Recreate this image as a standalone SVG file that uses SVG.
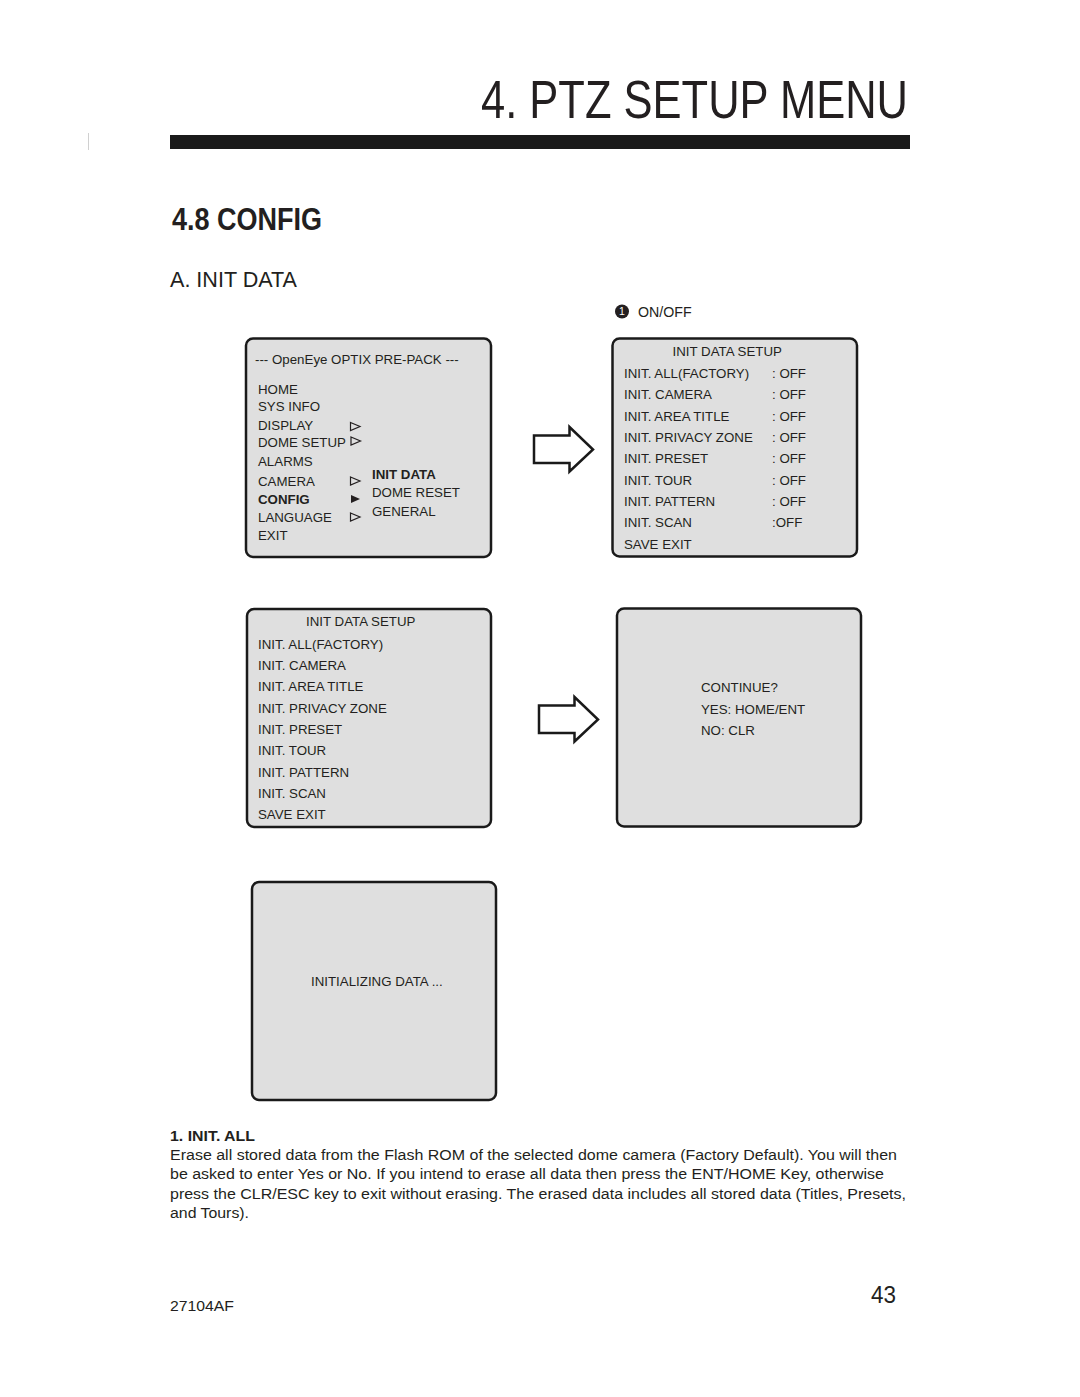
<svg xmlns="http://www.w3.org/2000/svg" width="1080" height="1397" viewBox="0 0 1080 1397">
<style>
text{font-family:"Liberation Sans",Arial,sans-serif;fill:#231f20}
.m{font-size:13.3px}
.b{font-weight:bold}
.box{fill:#dfdfdf;stroke:#1a1a1a;stroke-width:2.5}
.tri{fill:none;stroke:#231f20;stroke-width:1.2;stroke-linejoin:miter}
.arr{fill:#fff;stroke:#1a1a1a;stroke-width:2.5;stroke-linejoin:miter}
.body{font-size:15.5px}
</style>
<rect x="0" y="0" width="1080" height="1397" fill="#fff"/>
<g id="header">
<text x="481" y="118" font-size="53" textLength="427" lengthAdjust="spacingAndGlyphs">4. PTZ SETUP MENU</text>
<rect x="170" y="135" width="740" height="14" fill="#1a1a1a"/>
<line x1="88.5" y1="133" x2="88.5" y2="150" stroke="#d0d0d0" stroke-width="1"/>
<text x="172" y="230" font-size="32" class="b" textLength="150" lengthAdjust="spacingAndGlyphs">4.8 CONFIG</text>
<text x="170" y="287" font-size="22" textLength="127" lengthAdjust="spacingAndGlyphs">A.  INIT DATA</text>
</g>
<g id="main-menu">
<rect class="box" x="246" y="338.5" width="245" height="218.5" rx="7"/>
<text class="m" x="255" y="364">--- OpenEye OPTIX PRE-PACK ---</text>
<text class="m" x="258" y="394">HOME</text>
<text class="m" x="258" y="411">SYS INFO</text>
<text class="m" x="258" y="429.5">DISPLAY</text>
<text class="m" x="258" y="447">DOME SETUP</text>
<text class="m" x="258" y="466">ALARMS</text>
<text class="m" x="258" y="485.5">CAMERA</text>
<text class="m b" x="258" y="504">CONFIG</text>
<text class="m" x="258" y="521.5">LANGUAGE</text>
<text class="m" x="258" y="539.5">EXIT</text>
<text class="m b" x="372" y="479">INIT DATA</text>
<text class="m" x="372" y="497">DOME RESET</text>
<text class="m" x="372" y="515.5">GENERAL</text>
<path class="tri" d="M350.5 422.5 L360 426.5 L350.5 430.5 Z"/>
<path class="tri" d="M351 437 L360.5 441 L351 445 Z"/>
<path class="tri" d="M350.5 477 L360 481 L350.5 485 Z"/>
<path d="M351 495 L360 499 L351 503 Z" fill="#231f20"/>
<path class="tri" d="M350.5 513 L360 517 L350.5 521 Z"/>
</g>
<g id="onoff-label">
<circle cx="622" cy="311.5" r="7" fill="#231f20"/>
<text x="622" y="315.3" font-size="10.5" text-anchor="middle" style="fill:#fff">1</text>
<text x="638" y="317" font-size="14.2">ON/OFF</text>
</g>
<g id="init-setup-onoff">
<rect class="box" x="612.5" y="338.5" width="244.5" height="218" rx="7"/>
<text class="m" x="672.5" y="356">INIT DATA SETUP</text>
<text class="m" x="624" y="378">INIT. ALL(FACTORY)</text>
<text class="m" x="624" y="399.3">INIT. CAMERA</text>
<text class="m" x="624" y="420.6">INIT. AREA TITLE</text>
<text class="m" x="624" y="442">INIT. PRIVACY ZONE</text>
<text class="m" x="624" y="463.3">INIT. PRESET</text>
<text class="m" x="624" y="484.6">INIT. TOUR</text>
<text class="m" x="624" y="506">INIT. PATTERN</text>
<text class="m" x="624" y="527.3">INIT. SCAN</text>
<text class="m" x="624" y="548.6">SAVE EXIT</text>
<text class="m" x="772" y="378">: OFF</text>
<text class="m" x="772" y="399.3">: OFF</text>
<text class="m" x="772" y="420.6">: OFF</text>
<text class="m" x="772" y="442">: OFF</text>
<text class="m" x="772" y="463.3">: OFF</text>
<text class="m" x="772" y="484.6">: OFF</text>
<text class="m" x="772" y="506">: OFF</text>
<text class="m" x="772" y="527.3">:OFF</text>
</g>
<g id="init-setup-list">
<rect class="box" x="247" y="609" width="244" height="218" rx="7"/>
<text class="m" x="306" y="626">INIT DATA SETUP</text>
<text class="m" x="258" y="648.5">INIT. ALL(FACTORY)</text>
<text class="m" x="258" y="670">INIT. CAMERA</text>
<text class="m" x="258" y="691.3">INIT. AREA TITLE</text>
<text class="m" x="258" y="712.6">INIT. PRIVACY ZONE</text>
<text class="m" x="258" y="734">INIT. PRESET</text>
<text class="m" x="258" y="755.3">INIT. TOUR</text>
<text class="m" x="258" y="776.6">INIT. PATTERN</text>
<text class="m" x="258" y="798">INIT. SCAN</text>
<text class="m" x="258" y="819.3">SAVE EXIT</text>
</g>
<g id="continue-prompt">
<rect class="box" x="617" y="608.5" width="244" height="218" rx="7"/>
<text class="m" x="701" y="692">CONTINUE?</text>
<text class="m" x="701" y="713.5">YES: HOME/ENT</text>
<text class="m" x="701" y="735">NO: CLR</text>
</g>
<g id="initializing">
<rect class="box" x="252" y="882" width="244" height="218" rx="7"/>
<text class="m" x="311" y="986">INITIALIZING DATA ...</text>
</g>
<g id="connectors">
<path class="arr" d="M534 435.5 L569.5 435.5 L569.5 427 L593 449.5 L569.5 471.5 L569.5 463 L534 463 Z"/>
<path class="arr" d="M539 705.5 L574.5 705.5 L574.5 697 L598 719.5 L574.5 741.5 L574.5 733 L539 733 Z"/>
</g>
<g id="description">
<text x="170" y="1140.5" font-size="15.5" class="b" textLength="85" lengthAdjust="spacingAndGlyphs">1. INIT. ALL</text>
<text class="body" x="170" y="1159.5" textLength="727" lengthAdjust="spacingAndGlyphs">Erase all stored data from the Flash ROM of the selected dome camera (Factory Default). You will then</text>
<text class="body" x="170" y="1179" textLength="714" lengthAdjust="spacingAndGlyphs">be asked to enter Yes or No. If you intend to erase all data then press the ENT/HOME Key, otherwise</text>
<text class="body" x="170" y="1198.5" textLength="736" lengthAdjust="spacingAndGlyphs">press the CLR/ESC key to exit without erasing. The erased data includes all stored data (Titles, Presets,</text>
<text class="body" x="170" y="1217.5" textLength="79" lengthAdjust="spacingAndGlyphs">and Tours).</text>
</g>
<g id="footer">
<text x="170" y="1311" font-size="14.5" textLength="64" lengthAdjust="spacingAndGlyphs">27104AF</text>
<text x="871" y="1302.5" font-size="23" textLength="25" lengthAdjust="spacingAndGlyphs">43</text>
</g>
</svg>
